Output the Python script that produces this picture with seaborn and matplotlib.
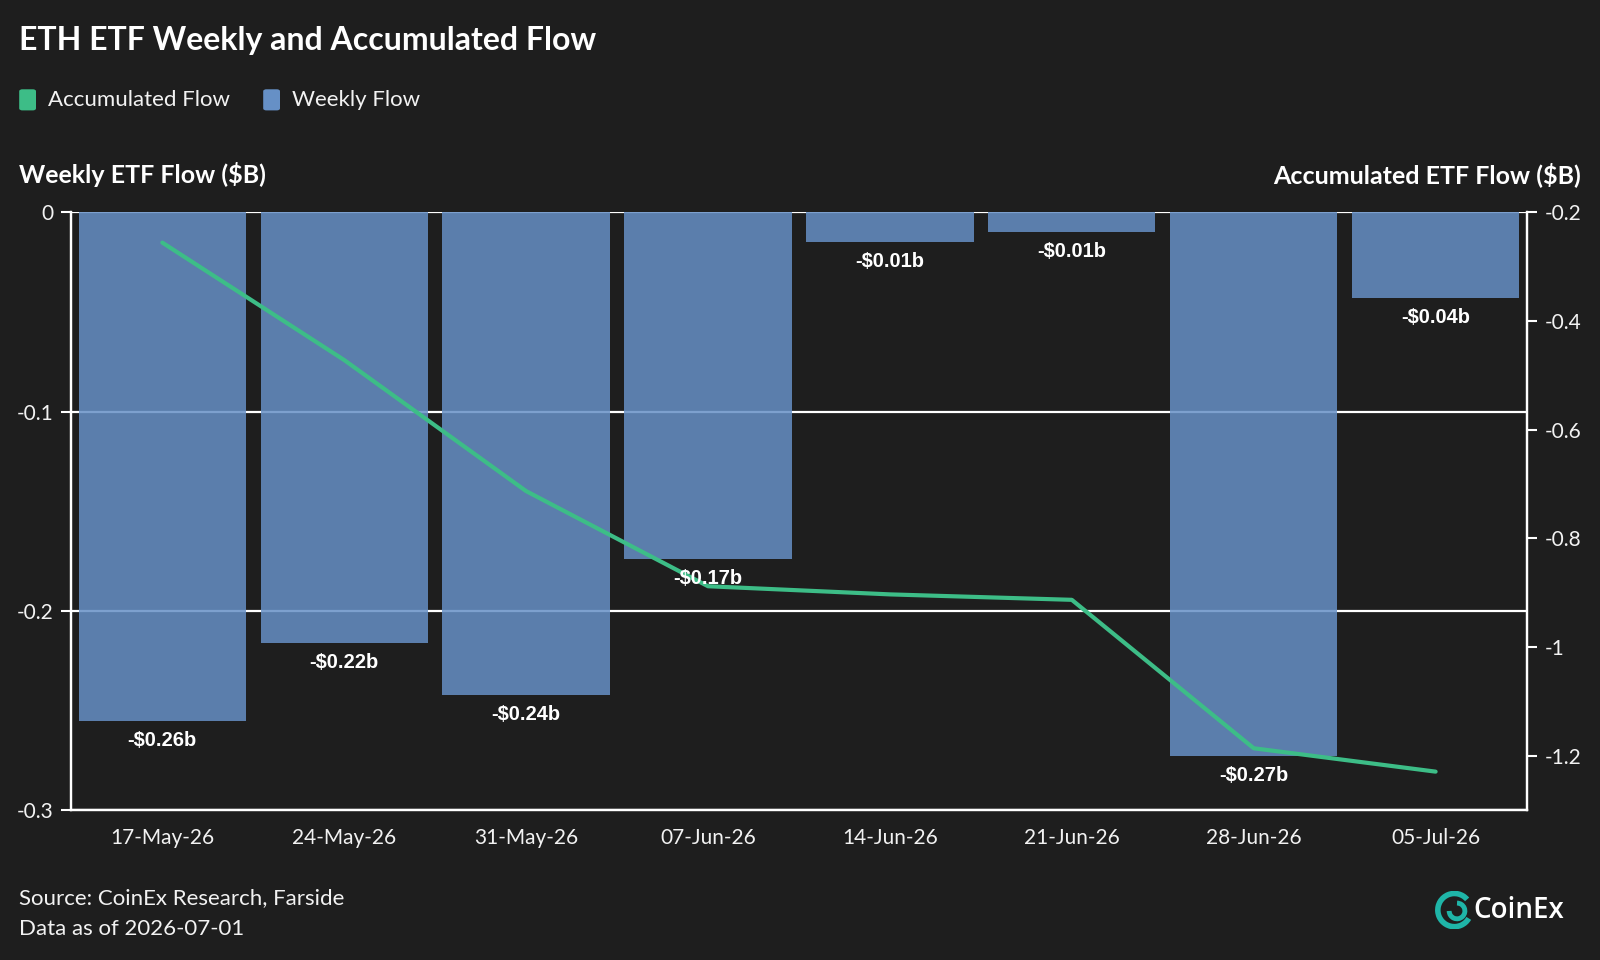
import numpy as np
import matplotlib
matplotlib.use('Agg')
import matplotlib.pyplot as plt
from matplotlib.patches import FancyBboxPatch, Arc
from matplotlib.ticker import FuncFormatter
import seaborn as sns

# Chart data
weeks = ['17-May-26', '24-May-26', '31-May-26', '07-Jun-26',
         '14-Jun-26', '21-Jun-26', '28-Jun-26', '05-Jul-26']
weekly_flow = [-0.255, -0.216, -0.242, -0.174, -0.015, -0.010, -0.273, -0.043]
weekly_labels = ['-$0.26b', '-$0.22b', '-$0.24b', '-$0.17b',
                 '-$0.01b', '-$0.01b', '-$0.27b', '-$0.04b']
accumulated_flow = [-0.256, -0.472, -0.713, -0.888, -0.903, -0.913, -1.186, -1.229]
left_ticks = [0, -0.1, -0.2, -0.3]
right_ticks = [-0.2, -0.4, -0.6, -0.8, -1.0, -1.2]

bg = '#1e1e1e'
bar_color = '#6690c6'
green = '#3dbd87'
fg = '#f2f2f2'

sns.set_style('dark')
plt.rcParams['font.family'] = ['Lato', 'DejaVu Sans']
plt.rcParams['axes.unicode_minus'] = False

fig = plt.figure(figsize=(16, 9.6), dpi=100, facecolor=bg)
ax = fig.add_axes([0.0446, 0.156, 0.9095, 0.623])
ax.set_facecolor(bg)

sns.barplot(x=weeks, y=weekly_flow, color=bar_color, saturation=1,
            width=0.92, alpha=0.85, edgecolor='none', linewidth=0,
            ax=ax, zorder=2)
ax.set_xlim(-0.5, len(weeks) - 0.5)
ax.set_ylim(-0.3, 0)
ax.set_yticks(left_ticks)
ax.yaxis.set_major_formatter(FuncFormatter(lambda v, p: f'{v:g}'))
ax.grid(axis='y', color='white', lw=1.6, zorder=1)
ax.grid(axis='x', visible=False)
ax.set_axisbelow(True)
ax.set_xlabel('')
ax.set_ylabel('')

ax2 = ax.twinx()
xpos = np.arange(len(weeks))
sns.lineplot(x=xpos, y=accumulated_flow, color=green, lw=3, ax=ax2,
             solid_capstyle='round', solid_joinstyle='round')
ax2.set_ylim(-1.3, -0.2)
ax2.set_yticks(right_ticks)
ax2.yaxis.set_major_formatter(FuncFormatter(lambda v, p: f'{v:g}'))
ax2.grid(False)
ax2.set_ylabel('')

# bar labels sit above the line
for i, (v, lab) in enumerate(zip(weekly_flow, weekly_labels)):
    ax2.text(i, v - 0.0098, lab, transform=ax.transData, ha='center', va='center',
             color='white', fontsize=14.5, fontweight='bold',
             family='Liberation Sans', zorder=5)

for a in (ax, ax2):
    for side in ('left', 'right', 'bottom'):
        a.spines[side].set_visible(True)
        a.spines[side].set_color('white')
        a.spines[side].set_linewidth(1.6)
    a.spines['top'].set_visible(False)
    a.tick_params(colors='white', labelcolor=fg, length=7, width=1.5,
                  labelsize=15, pad=6)

ax.tick_params(axis='x', pad=6)

# title, legend, axis titles
fig.text(0.012, 0.958, 'ETH ETF Weekly and Accumulated Flow', color='white',
         fontsize=23, fontweight='bold', va='center', ha='left')

for x0, col, lab in [(0.012, green, 'Accumulated Flow'), (0.1645, bar_color, 'Weekly Flow')]:
    fig.patches.append(FancyBboxPatch((x0, 0.885), 0.0105, 0.022,
                                      boxstyle='round,pad=0,rounding_size=0.002',
                                      transform=fig.transFigure, color=col, lw=0))
    fig.text(x0 + 0.018, 0.896, lab, color=fg, fontsize=16, va='center', ha='left')

fig.text(0.012, 0.818, 'Weekly ETF Flow ($B)', color='white', fontsize=18,
         fontweight='bold', va='center', ha='left')
fig.text(0.988, 0.818, 'Accumulated ETF Flow ($B)', color='white', fontsize=18,
         fontweight='bold', va='center', ha='right')

fig.text(0.012, 0.064, 'Source: CoinEx Research, Farside', color=fg,
         fontsize=16, va='center', ha='left')
fig.text(0.012, 0.032, 'Data as of 2026-07-01', color=fg,
         fontsize=16, va='center', ha='left')

# CoinEx logo
lax = fig.add_axes([0.897, 0.032, 0.024, 0.04])
lax.set_xlim(-1.1, 1.1)
lax.set_ylim(-1.1, 1.1)
lax.set_aspect('equal')
lax.axis('off')
lax.add_patch(Arc((0, 0), 1.9, 1.9, theta1=40, theta2=330, color='#1fb5a8', lw=4))
lax.add_patch(Arc((0.15, -0.05), 0.9, 0.9, theta1=180, theta2=450, color='#1fb5a8', lw=3.5))
fig.text(0.921, 0.052, 'CoinEx', color='white', fontsize=20, va='center',
         ha='left', family='Open Sans', fontweight='semibold')

fig.savefig('out.png', dpi=100, facecolor=bg)
